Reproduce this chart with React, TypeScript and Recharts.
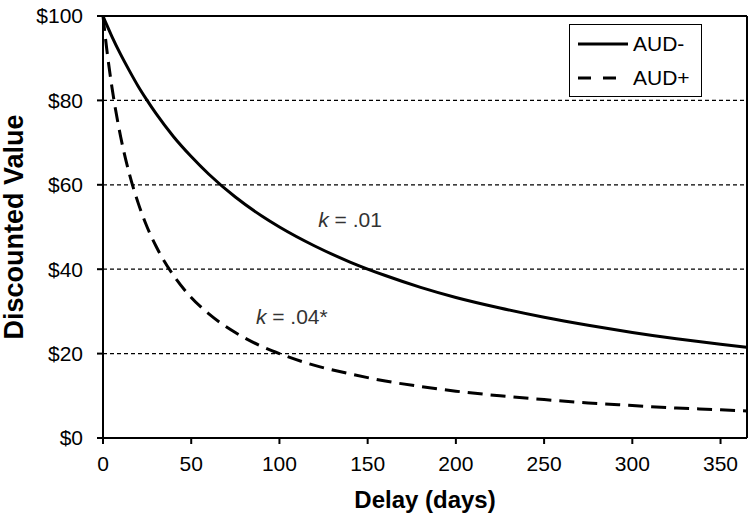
import { LineChart, Line, XAxis, YAxis, ReferenceLine, ReferenceDot } from 'recharts';

// delay in days
const delays = [0, 2, 5, 10, 15, 20, 25, 30, 40, 50, 60, 75, 90, 100, 120, 140, 160, 180, 200, 225, 250, 275, 300, 325, 350, 365];
// AUD- (k = .01)
const audMinus = [100, 98.0, 95.2, 90.9, 87.0, 83.3, 80.0, 76.9, 71.4, 66.7, 62.5, 57.1, 52.6, 50.0, 45.5, 41.7, 38.5, 35.7, 33.3, 30.8, 28.6, 26.7, 25.0, 23.5, 22.2, 21.5];
// AUD+ (k = .04)
const audPlus = [100, 92.6, 83.3, 71.4, 62.5, 55.6, 50.0, 45.5, 38.5, 33.3, 29.4, 25.0, 21.7, 20.0, 17.2, 15.2, 13.5, 12.2, 11.1, 10.0, 9.1, 8.3, 7.7, 7.1, 6.7, 6.4];

const xTicks = [0, 50, 100, 150, 200, 250, 300, 350];
const yTicks = [0, 20, 40, 60, 80, 100];
const gridValues = [20, 40, 60, 80];
const series = [
    { key: 'minus', name: 'AUD-', dash: undefined },
    { key: 'plus', name: 'AUD+', dash: '13 12' },
];

const data = delays.map((d, i) => ({ delay: d, minus: audMinus[i], plus: audPlus[i] }));

const font = '"Liberation Sans", Arial, sans-serif';

const kLabel = (txt: string) => (props: any) => {
    const { viewBox } = props;
    const x = viewBox.x + (viewBox.width || 0) / 2;
    const y = viewBox.y + (viewBox.height || 0) / 2;
    return (
        <text x={x} y={y} textAnchor="middle" dominantBaseline="central" fontFamily={font} fontSize={21} fill="#333">
            <tspan fontStyle="italic">k</tspan>
            <tspan> = {txt}</tspan>
        </text>
    );
};

const YTitle = (props: any) => {
    const { viewBox } = props;
    const cy = viewBox.y + viewBox.height / 2;
    return (
        <text x={14} y={cy} transform={`rotate(-90 14 ${cy})`} textAnchor="middle" dominantBaseline="central"
            fontFamily={font} fontSize={27} fontWeight="bold" fill="#000">
            Discounted Value
        </text>
    );
};

const XTitle = (props: any) => {
    const { viewBox } = props;
    const cx = viewBox.x + viewBox.width / 2;
    return (
        <text x={cx} y={499} textAnchor="middle" dominantBaseline="central"
            fontFamily={font} fontSize={24} fontWeight="bold" fill="#000">
            Delay (days)
        </text>
    );
};

const LegendBox = () => (
    <div style={{ position: 'absolute', left: 569, top: 24, border: '1.5px solid #000', width: 133, height: 73, background: '#fff', boxSizing: 'border-box', fontFamily: font, fontSize: 21, color: '#000' }}>
        {series.map((s, i) => (
            <div key={s.key} style={{ display: 'flex', alignItems: 'center', height: 34, paddingLeft: 8, marginTop: i === 0 ? 2 : 0 }}>
                <svg width={50} height={6}><line x1={0} y1={3} x2={50} y2={3} stroke="#000" strokeWidth={3} strokeDasharray={s.dash} /></svg>
                <span style={{ marginLeft: 5 }}>{s.name}</span>
            </div>
        ))}
    </div>
);

const App = () => {
    return (
        <div style={{ position: 'absolute', left: 0, top: 0, width: 750, height: 519, background: '#fff' }}>
            <LineChart width={750} height={519} data={data} margin={{ top: 16, right: 3, bottom: 0, left: 0 }}>
                {gridValues.map((v) => (
                    <ReferenceLine key={v} y={v} stroke="#000" strokeWidth={1.2} strokeDasharray="4 3" />
                ))}
                <ReferenceLine y={100} stroke="#000" strokeWidth={2} />
                <ReferenceLine x={365} stroke="#000" strokeWidth={2} />
                <XAxis
                    dataKey="delay"
                    type="number"
                    domain={[0, 365]}
                    ticks={xTicks}
                    height={81}
                    stroke="#000"
                    strokeWidth={2}
                    tickSize={6}
                    tickMargin={12}
                    tick={{ fill: '#000', fontSize: 21, fontFamily: font }}
                    label={{ content: XTitle }}
                />
                <YAxis
                    type="number"
                    domain={[0, 100]}
                    ticks={yTicks}
                    width={103}
                    stroke="#000"
                    strokeWidth={2}
                    tickSize={6}
                    tickMargin={14}
                    tickFormatter={(v) => `$${v}`}
                    tick={{ fill: '#000', fontSize: 21, fontFamily: font }}
                    label={{ content: YTitle }}
                />
                {series.map((s) => (
                    <Line key={s.key} type="monotone" dataKey={s.key} name={s.name} stroke="#000" strokeWidth={3}
                        strokeDasharray={s.dash ? '15 8' : undefined} dot={false} isAnimationActive={false} />
                ))}
                <ReferenceDot x={140} y={52} r={0} stroke="none" label={{ content: kLabel('.01') }} />
                <ReferenceDot x={107} y={29} r={0} stroke="none" label={{ content: kLabel('.04*') }} />
            </LineChart>
            <LegendBox />
        </div>
    );
};

export default App;
